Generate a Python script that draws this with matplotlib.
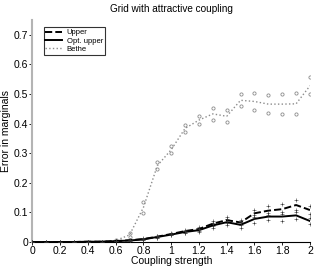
import numpy as np
import matplotlib
matplotlib.use("Agg")
import matplotlib.pyplot as plt

plt.rcParams['font.family'] = ['Liberation Sans', 'DejaVu Sans']

coupling = [0.0, 0.1, 0.2, 0.3, 0.4, 0.5, 0.6, 0.7, 0.8, 0.9, 1.0,
            1.1, 1.2, 1.3, 1.4, 1.5, 1.6, 1.7, 1.8, 1.9, 2.0]

bethe_mean = [0, 0, 0, 0, 0.001, 0.002, 0.005, 0.024, 0.117, 0.258, 0.312,
              0.384, 0.412, 0.433, 0.425, 0.479, 0.475, 0.466, 0.466, 0.467, 0.528]
bethe_hi = [0, 0, 0, 0, 0.001, 0.003, 0.007, 0.030, 0.136, 0.269, 0.324,
            0.395, 0.426, 0.454, 0.446, 0.499, 0.504, 0.497, 0.499, 0.502, 0.556]
bethe_lo = [0, 0, 0, 0, 0.001, 0.001, 0.003, 0.018, 0.097, 0.246, 0.300,
            0.373, 0.399, 0.412, 0.404, 0.460, 0.446, 0.435, 0.433, 0.433, 0.500]

upper = [0, 0, 0, 0, 0.001, 0.001, 0.003, 0.006, 0.010, 0.018, 0.027,
         0.037, 0.044, 0.062, 0.074, 0.066, 0.097, 0.106, 0.111, 0.125, 0.108]
upper_err = [0, 0, 0, 0, 0, 0, 0.001, 0.001, 0.002, 0.003, 0.004,
             0.005, 0.006, 0.009, 0.011, 0.010, 0.012, 0.016, 0.017, 0.017, 0.015]

opt_upper = [0, 0, 0, 0, 0.001, 0.001, 0.003, 0.005, 0.009, 0.017, 0.025,
             0.034, 0.040, 0.056, 0.067, 0.058, 0.078, 0.086, 0.086, 0.090, 0.071]
opt_err = [0, 0, 0, 0, 0, 0, 0.001, 0.001, 0.002, 0.002, 0.003,
           0.004, 0.005, 0.008, 0.010, 0.009, 0.014, 0.012, 0.014, 0.011, 0.010]

x = np.array(coupling)
gray = '#8c8c8c'

fig = plt.figure(figsize=(3.15, 2.68), dpi=100)
ax = fig.add_axes([0.103, 0.097, 0.881, 0.828])

# bethe: mean line plus spread circles
ax.plot(x, bethe_mean, linestyle=':', color=gray, lw=1.0, label='Bethe', zorder=2)
show = x >= 0.6
ax.plot(x[show], np.array(bethe_hi)[show], 'o', ms=2.3, mfc='none', mec=gray, mew=0.6, zorder=2)
ax.plot(x[show], np.array(bethe_lo)[show], 'o', ms=2.3, mfc='none', mec=gray, mew=0.6, zorder=2)

u = np.array(upper)
o = np.array(opt_upper)
ax.plot(x, u, '--', color='black', lw=1.4, label='Upper', zorder=3)
ax.plot(x, o, '-', color='black', lw=1.4, label='Opt. upper', zorder=3)
for arr, err in [(u, np.array(upper_err)), (o, np.array(opt_err))]:
    ax.plot(x, arr + err, '+', color='#333333', ms=2.5, mew=0.4, zorder=4)
    ax.plot(x, arr - err, '+', color='#333333', ms=2.5, mew=0.4, zorder=4)

ax.set_xlim(0, 2)
ax.set_ylim(0, 0.75)
ax.set_xticks(np.arange(0, 2.01, 0.2))
ax.set_xticklabels(['0', '0.2', '0.4', '0.6', '0.8', '1', '1.2', '1.4', '1.6', '1.8', '2'])
ax.set_yticks(np.arange(0, 0.71, 0.1))
ax.set_yticklabels(['0', '0.1', '0.2', '0.3', '0.4', '0.5', '0.6', '0.7'])
ax.tick_params(labelsize=7.5, length=2, width=0.6, pad=1)

ax.spines['top'].set_visible(False)
ax.spines['right'].set_visible(False)
ax.spines['left'].set_color('#b4b4b4')
ax.spines['left'].set_linewidth(1.5)
ax.spines['bottom'].set_linewidth(0.8)

ax.set_title('Grid with attractive coupling', fontsize=7.2, pad=6)
ax.set_xlabel('Coupling strength', fontsize=7.5, labelpad=0)
ax.set_ylabel('Error in marginals', fontsize=7.5, labelpad=2)

handles, labels = ax.get_legend_handles_labels()
order = [labels.index('Upper'), labels.index('Opt. upper'), labels.index('Bethe')]
leg = ax.legend([handles[i] for i in order], [labels[i] for i in order],
                loc='upper left', bbox_to_anchor=(0.04, 0.968), fontsize=5.5,
                frameon=True, fancybox=False, edgecolor='black',
                handlelength=2.2, handletextpad=0.6, borderpad=0.25,
                labelspacing=0.1, borderaxespad=0)
leg.get_frame().set_linewidth(0.8)

fig.savefig('out.png', dpi=100)
